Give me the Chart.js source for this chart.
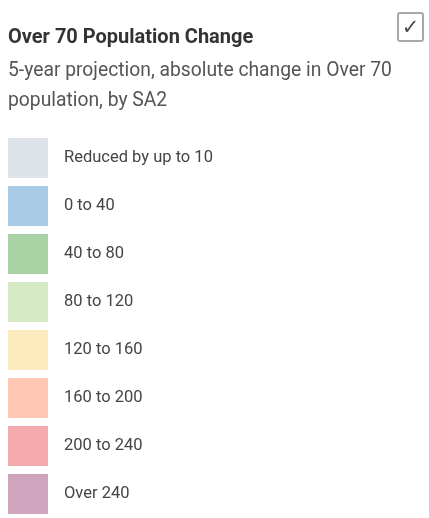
<!DOCTYPE html>
<html>
<head>
<meta charset="utf-8">
<script src="https://cdn.jsdelivr.net/npm/chart.js@4"></script>
<style>
  body { margin: 0; background: #fff; }
  #wrap { position: relative; width: 429px; height: 518px; }
  #tick {
    position: absolute; left: 397px; top: 12px; width: 23px; height: 26px;
    border: 2px solid #a8a8a8; border-radius: 3px;
    font: 21px "DejaVu Sans", sans-serif; color: #4a4a4a;
    text-align: center; line-height: 27px;
  }
</style>
</head>
<body>
<div id="wrap">
  <canvas id="legendChart" width="429" height="518"></canvas>
  <div id="tick">✓</div>
</div>
<script>
const titleText = 'Over 70 Population Change';
const subtitleLines = ['5-year projection, absolute change in Over 70', 'population, by SA2'];
const categories = ['Reduced by up to 10', '0 to 40', '40 to 80', '80 to 120',
                    '120 to 160', '160 to 200', '200 to 240', 'Over 240'];
const swatchValues = [1, 1, 1, 1, 1, 1, 1, 1];
const swatchColors = ['#dde3e8', '#a9cbe6', '#a9d3a4', '#d6ebc5',
                      '#feebbd', '#fec6b3', '#f4aaac', '#cfa5bd'];

const ctx = document.getElementById('legendChart');

const config = {
    type: 'bar',
    data: {
        labels: categories,
        datasets: [{
            data: swatchValues,
            backgroundColor: swatchColors,
            borderWidth: 0,
            barPercentage: 40 / 48,
            categoryPercentage: 1,
        }]
    },
    options: {
        indexAxis: 'y',
        responsive: false,
        animation: false,
        layout: { padding: { left: 8, right: 0, top: 0, bottom: 0 } },
        plugins: {
            legend: { display: false },
            tooltip: { enabled: false },
            title: {
                display: true,
                text: titleText,
                align: 'start',
                color: '#333',
                font: { family: 'Roboto', size: 20, weight: 'bold', lineHeight: 1.2 },
                padding: { top: 26, bottom: 0 }
            },
            subtitle: {
                display: true,
                text: subtitleLines,
                align: 'start',
                color: '#555',
                font: { family: 'Roboto', size: 19.3, lineHeight: 30 / 19.3 },
                padding: { top: 6, bottom: 18 }
            }
        },
        scales: {
            x: { display: false, min: 0, max: 1 },
            y: {
                position: 'right',
                grid: { display: false, drawTicks: false },
                border: { display: false },
                ticks: {
                    color: '#444',
                    padding: 16,
                    crossAlign: 'near',
                    font: { family: 'Roboto', size: 16.5 }
                },
                afterFit: scale => {
                    scale.width = 429 - 48;
                    scale.paddingTop = 0;
                    scale.paddingBottom = 0;
                }
            }
        }
    }
};

new Chart(ctx, config);
</script>
</body>
</html>
